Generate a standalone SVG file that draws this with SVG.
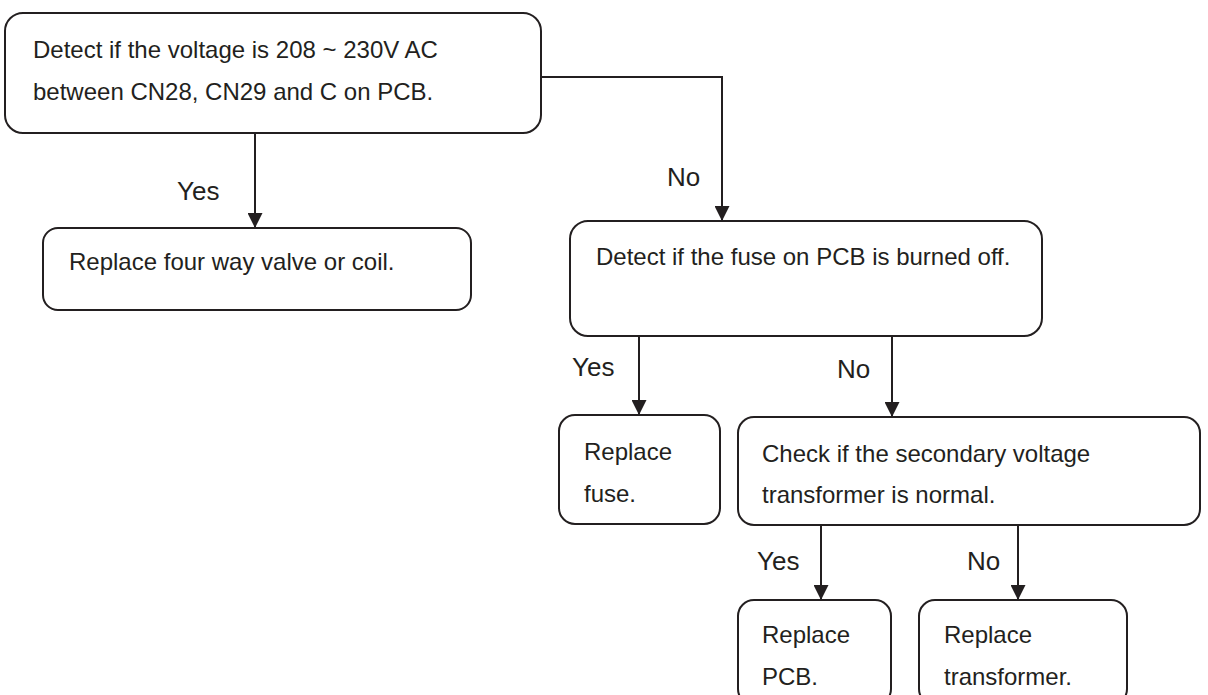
<svg xmlns="http://www.w3.org/2000/svg" width="1208" height="695" viewBox="0 0 1208 695">
<style>
.box{fill:#fff;stroke:#231f20;stroke-width:2}
.t{font-family:"Liberation Sans",Arial,sans-serif;font-size:24px;fill:#231f20}
.lbl{font-family:"Liberation Sans",Arial,sans-serif;font-size:26px;fill:#231f20}
.ln{fill:none;stroke:#231f20;stroke-width:2}
</style>
<defs>
<marker id="arr" markerWidth="15" markerHeight="15" refX="15" refY="7.5" orient="auto" markerUnits="userSpaceOnUse">
<path d="M0,0 L15,7.5 L0,15 Z" fill="#231f20"/>
</marker>
</defs>
<rect width="1208" height="695" fill="#fff"/>
<g id="connectors">
<path class="ln" d="M541,77 H722 V221" marker-end="url(#arr)"/>
<path class="ln" d="M255,133 V228" marker-end="url(#arr)"/>
<path class="ln" d="M639,336 V415" marker-end="url(#arr)"/>
<path class="ln" d="M892,336 V417" marker-end="url(#arr)"/>
<path class="ln" d="M821,525 V600" marker-end="url(#arr)"/>
<path class="ln" d="M1018,525 V600" marker-end="url(#arr)"/>
<text class="lbl" x="177" y="200">Yes</text>
<text class="lbl" x="667" y="186">No</text>
<text class="lbl" x="572" y="376">Yes</text>
<text class="lbl" x="837" y="378">No</text>
<text class="lbl" x="757" y="570">Yes</text>
<text class="lbl" x="967" y="570">No</text>
</g>
<g id="n1">
<rect class="box" x="5" y="13" width="536" height="120" rx="18"/>
<text class="t" x="33" y="58">Detect if the voltage is 208 ~ 230V AC</text>
<text class="t" x="33" y="100">between CN28, CN29 and C on PCB.</text>
</g>
<g id="n2">
<rect class="box" x="43" y="228" width="428" height="82" rx="15"/>
<text class="t" x="69" y="270">Replace four way valve or coil.</text>
</g>
<g id="n3">
<rect class="box" x="570" y="221" width="472" height="115" rx="18"/>
<text class="t" x="596" y="265">Detect if the fuse on PCB is burned off.</text>
</g>
<g id="n4">
<rect class="box" x="559" y="415" width="161" height="109" rx="16"/>
<text class="t" x="584" y="460">Replace</text>
<text class="t" x="584" y="502">fuse.</text>
</g>
<g id="n5">
<rect class="box" x="738" y="417" width="462" height="108" rx="16"/>
<text class="t" x="762" y="462">Check if the secondary voltage</text>
<text class="t" x="762" y="503">transformer is normal.</text>
</g>
<g id="n6">
<rect class="box" x="738" y="600" width="153" height="105" rx="16"/>
<text class="t" x="762" y="643">Replace</text>
<text class="t" x="762" y="685">PCB.</text>
</g>
<g id="n7">
<rect class="box" x="919" y="600" width="208" height="105" rx="16"/>
<text class="t" x="944" y="643">Replace</text>
<text class="t" x="944" y="685">transformer.</text>
</g>
</svg>
